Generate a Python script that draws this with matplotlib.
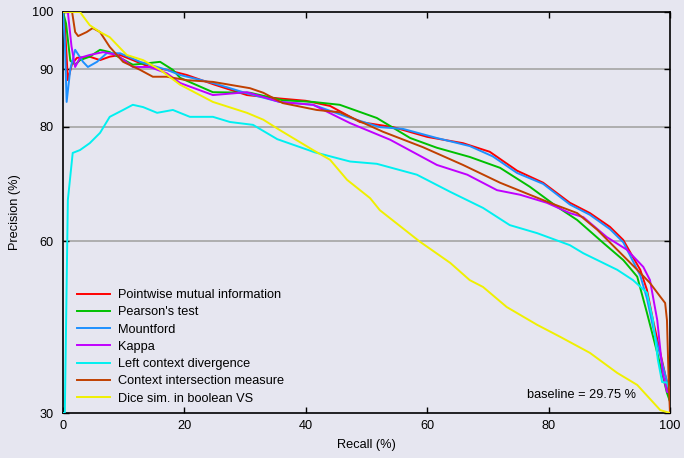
import matplotlib
matplotlib.use("Agg")
import matplotlib.pyplot as plt

plt.rcParams['font.family'] = ['Liberation Sans', 'DejaVu Sans']

pmi_x = [0, 0.3, 0.8, 1.5, 2.3, 4.4, 6.1, 7.7, 9.4, 11.5, 14.3, 17.1, 20.4, 25, 30.3, 35.7, 40, 44, 48.9, 54.4, 60, 65.9, 70.3, 74.8, 79.1, 83.5, 86.8, 90.1, 92.3, 93.9, 95.1, 96.2, 97.2, 98.4, 99.5, 100]
pmi_y = [100, 98, 88.1, 91, 92, 92.2, 91.6, 92.2, 92.5, 91.6, 90.4, 89.9, 89.0, 87.3, 85.5, 84.9, 84.5, 83.6, 80.8, 79.9, 78.2, 77.1, 75.6, 72.3, 70.2, 66.7, 64.9, 62.5, 60.2, 57.2, 55.0, 51.5, 46.2, 40.5, 35.3, 32]

pear_x = [0, 0.5, 1.2, 2.0, 2.8, 4.4, 6.1, 7.7, 9.4, 11.5, 14.3, 16.0, 18.1, 19.3, 24.7, 30.8, 36.2, 41.2, 45.6, 51.7, 57.2, 61.6, 67, 72, 76.9, 81.4, 84.7, 89.0, 92.3, 94.6, 96.2, 97.9, 99.5, 100]
pear_y = [100, 98, 91.5, 90.8, 91.6, 92.2, 93.4, 93.0, 92.0, 90.8, 91.1, 91.3, 89.9, 88.5, 86.0, 85.9, 84.6, 84.3, 83.8, 81.5, 78.0, 76.3, 74.7, 72.8, 69.5, 66.0, 63.7, 59.7, 56.7, 53.8, 47.5, 40.5, 33.5, 32]

mount_x = [0, 0.3, 0.6, 1.2, 2.0, 3.3, 4.1, 5.6, 7.2, 9.4, 12.7, 17.1, 19.3, 24.7, 30.3, 35.7, 41.2, 46.8, 52.2, 56, 61.6, 67, 70.8, 74.8, 79.1, 83.5, 86.8, 90.1, 92.3, 93.9, 95.1, 96.2, 97.2, 98.4, 99.5, 100]
mount_y = [100, 95, 84.3, 90, 93.4, 91.3, 90.4, 91.3, 92.8, 92.8, 91.3, 89.9, 89.0, 87.6, 85.8, 84.3, 83.8, 81.7, 79.9, 79.6, 78.0, 76.6, 74.8, 71.9, 70.0, 66.4, 64.6, 62.1, 59.8, 56.5, 54.0, 50.0, 45.0, 40.0, 35.5, 33]

kappa_x = [0, 0.8, 1.4, 2.0, 2.8, 4.4, 6.6, 8.9, 11.5, 14.3, 17.1, 19.3, 24.7, 30.3, 35.7, 41.2, 47.3, 53.9, 61.6, 66.6, 71.5, 75.3, 79.7, 83.5, 85.7, 89.6, 92.9, 95.6, 96.7, 97.9, 98.8, 99.5, 100]
kappa_y = [100, 100, 94, 90.4, 92.0, 92.5, 93.0, 92.5, 90.4, 90.4, 89.3, 87.6, 85.5, 86.0, 84.3, 83.8, 80.6, 77.7, 73.3, 71.6, 68.9, 68.1, 66.7, 64.9, 64.2, 60.7, 58.5, 55.5, 53.2, 46.2, 37.0, 33.7, 33.5]

lcd_x = [0, 0.3, 0.5, 0.8, 1.6, 2.8, 4.4, 6.1, 7.7, 9.9, 11.5, 13.2, 15.5, 18.1, 20.9, 24.7, 27.5, 31.3, 35.3, 41.5, 47.3, 51.7, 58.3, 63.8, 69.2, 73.6, 78.1, 83.5, 85.7, 91.3, 93.9, 96.2, 97.2, 98.0, 98.7, 99.5, 100]
lcd_y = [30, 30, 45, 67.2, 75.4, 75.9, 77.1, 78.9, 81.7, 82.9, 83.8, 83.4, 82.4, 82.9, 81.7, 81.7, 80.8, 80.3, 77.8, 75.5, 73.9, 73.5, 71.6, 68.6, 65.8, 62.8, 61.4, 59.3, 57.9, 55.0, 53.2, 51.0, 46.2, 39.3, 35.4, 35.3, 34]

cim_x = [0, 1.5, 2.0, 2.5, 3.9, 4.9, 6.1, 7.7, 9.9, 12.7, 14.8, 17.1, 20.4, 24.7, 30.8, 33.0, 36.2, 41.8, 45.6, 52.7, 59.3, 65.9, 72, 76.9, 80.2, 84.7, 88, 91.3, 94.6, 96.7, 98.4, 99.2, 99.5, 99.8, 100]
cim_y = [100, 100, 96.5, 95.8, 96.5, 97.2, 96.5, 93.9, 91.3, 89.9, 88.7, 88.7, 88.1, 87.8, 86.7, 85.9, 84.1, 82.9, 82.5, 79.1, 76.4, 73.3, 70.2, 68.1, 66.7, 64.9, 62.0, 58.5, 55.0, 52.7, 50.3, 49.2, 46.2, 35, 30]

dice_x = [0, 2.8, 4.4, 6.1, 7.7, 10.5, 13.2, 16.0, 19.3, 24.7, 30.3, 33.0, 35.7, 41.2, 44.0, 46.8, 50.6, 52.2, 58.8, 63.8, 67, 69.2, 73.1, 78.1, 81.9, 86.8, 91.3, 94.6, 98.4, 100]
dice_y = [100, 100, 97.7, 96.5, 95.6, 92.5, 91.6, 89.9, 87.3, 84.3, 82.4, 81.2, 79.4, 75.9, 74.2, 70.7, 67.5, 65.4, 59.9, 56.2, 53.2, 52.0, 48.5, 45.4, 43.3, 40.5, 37.0, 34.9, 30.5, 30]

labels = ["Pointwise mutual information", "Pearson's test", "Mountford", "Kappa",
          "Left context divergence", "Context intersection measure", "Dice sim. in boolean VS"]
colors = ["#ff0000", "#00c000", "#1e90ff", "#c000ff", "#00f0f0", "#c04000", "#f0f000"]
series = [(pmi_x, pmi_y), (pear_x, pear_y), (mount_x, mount_y), (kappa_x, kappa_y),
          (lcd_x, lcd_y), (cim_x, cim_y), (dice_x, dice_y)]

x_ticks = [0, 20, 40, 60, 80, 100]
y_ticks = [30, 60, 80, 90, 100]
grid_y = [60, 80, 90]

fs = 9.2
bg = "#e6e6f0"
fig = plt.figure(figsize=(6.84, 4.58), dpi=100, facecolor=bg)
ax = fig.add_axes([63/684, 1-413/458, 607/684, 401/458], facecolor=bg)

for g in grid_y:
    ax.axhline(g, color="#aaaaaa", lw=1.3, zorder=1)

for (xs, ys), lab, c in zip(series, labels, colors):
    ax.plot(xs, ys, color=c, lw=1.4, label=lab, zorder=3)

ax.set_xlim(0, 100)
ax.set_ylim(30, 100)
ax.set_xticks(x_ticks)
ax.set_yticks(y_ticks)
ax.tick_params(direction="in", top=True, right=True, labelsize=fs, length=4, width=1)
ax.tick_params(axis="y", pad=7)
ax.tick_params(axis="x", pad=5)
for s in ax.spines.values():
    s.set_linewidth(1.2)
ax.set_xlabel("Recall (%)", fontsize=fs, labelpad=5)
ax.set_ylabel("Precision (%)", fontsize=fs, labelpad=8)

ax.text(0.855, 0.045, "baseline = 29.75 %", transform=ax.transAxes, fontsize=fs, ha="center", va="center")

leg = ax.legend(loc="lower left", bbox_to_anchor=(0.023, 0.021), frameon=False, fontsize=fs,
                handlelength=2.6, handletextpad=0.6, labelspacing=0.41, borderaxespad=0, borderpad=0)

fig.savefig("out.png", dpi=100, facecolor=bg)
